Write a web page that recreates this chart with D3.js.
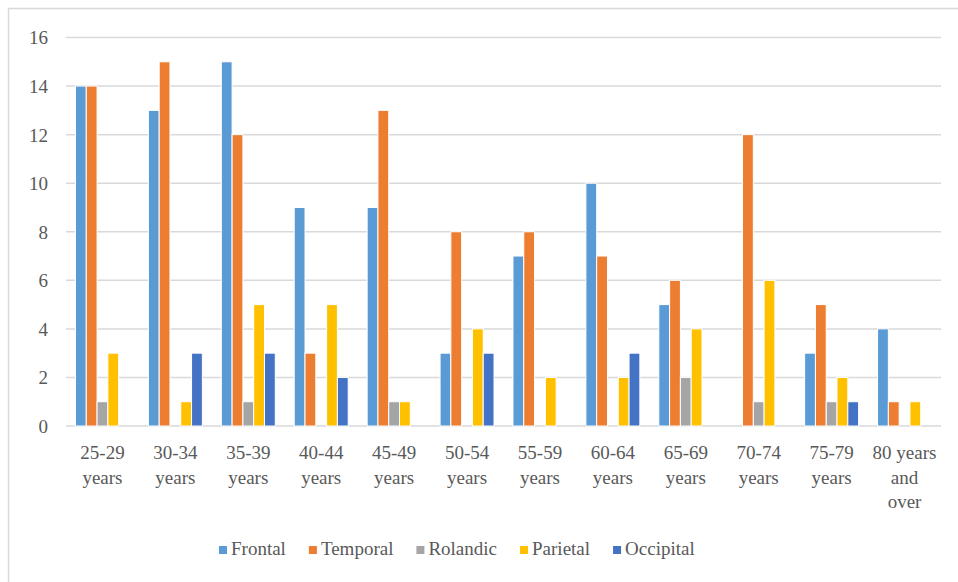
<!DOCTYPE html>
<html>
<head>
<meta charset="utf-8">
<script src="https://cdn.jsdelivr.net/npm/d3@7"></script>
<style>
  html, body { margin: 0; padding: 0; background: #fff; }
  svg { display: block; }
  svg text { font-family: "Times New Roman", "Liberation Serif", "DejaVu Serif", serif !important; fill: #595959; }
</style>
</head>
<body>
<svg id="chart" width="958" height="582"></svg>
<script>
// Age groups (each label split into its display lines)
const categories = ["25-29 years", "30-34 years", "35-39 years", "40-44 years", "45-49 years",
  "50-54 years", "55-59 years", "60-64 years", "65-69 years", "70-74 years", "75-79 years",
  "80 years and over"];
const categoryLines = [["25-29", "years"], ["30-34", "years"], ["35-39", "years"], ["40-44", "years"],
  ["45-49", "years"], ["50-54", "years"], ["55-59", "years"], ["60-64", "years"], ["65-69", "years"],
  ["70-74", "years"], ["75-79", "years"], ["80 years", "and", "over"]];

// Series values per age group
const seriesNames = ["Frontal", "Temporal", "Rolandic", "Parietal", "Occipital"];
const frontal   = [14, 13, 15, 9, 9, 3, 7, 10, 5, 0, 3, 4];
const temporal  = [14, 15, 12, 3, 13, 8, 8, 7, 6, 12, 5, 1];
const rolandic  = [1, 0, 1, 0, 1, 0, 0, 0, 2, 1, 1, 0];
const parietal  = [3, 1, 5, 5, 1, 4, 2, 2, 4, 6, 2, 1];
const occipital = [0, 3, 3, 2, 0, 3, 0, 3, 0, 0, 1, 0];
const seriesColors = ["#5b9bd5", "#ed7d31", "#a5a5a5", "#ffc000", "#4472c4"];

const yTicks = [0, 2, 4, 6, 8, 10, 12, 14, 16];

const FONT = "'Times New Roman', 'Liberation Serif', 'DejaVu Serif', serif";

const seriesValues = [frontal, temporal, rolandic, parietal, occipital];
const rows = categories.map((c, i) => ({
  category: c,
  lines: categoryLines[i],
  values: seriesNames.map((s, j) => ({ series: s, value: seriesValues[j][i], color: seriesColors[j] }))
}));

const svg = d3.select("#chart");

// Outer chart frame (only left and top edges fall inside the view)
svg.append("rect")
  .attr("x", 8.5).attr("y", 8.5)
  .attr("width", 1000).attr("height", 1000)
  .attr("fill", "none").attr("stroke", "#d9d9d9").attr("stroke-width", 1.5);

const plot = { left: 66, right: 941, top: 37.5, bottom: 426 };

const x0 = d3.scaleBand().domain(categories).range([plot.left, plot.right]).padding(0);
const gapRatio = 0.13;
const x1 = d3.scaleBand().domain(seriesNames)
  .range([x0.bandwidth() * gapRatio, x0.bandwidth() * (1 - gapRatio)]).padding(0);
const y = d3.scaleLinear().domain([0, 16]).range([plot.bottom, plot.top]);

// Horizontal gridlines
svg.append("g").selectAll("line").data(yTicks).join("line")
  .attr("x1", plot.left).attr("x2", plot.right)
  .attr("y1", d => y(d)).attr("y2", d => y(d))
  .attr("stroke", "#d9d9d9").attr("stroke-width", 1.5);

// Y axis labels
const yAxis = d3.axisLeft(y).tickValues(yTicks).tickSize(0).tickPadding(0).tickFormat(d3.format("d"));
const gy = svg.append("g").attr("transform", "translate(48,0)").call(yAxis);
gy.attr("font-family", null).attr("font-size", null);
gy.select(".domain").remove();
gy.selectAll("text")
  .style("font-family", FONT)
  .attr("font-size", 19).attr("fill", "#595959").attr("dy", "0.34em");

// Bars
const groups = svg.append("g").selectAll("g").data(rows).join("g")
  .attr("transform", d => `translate(${x0(d.category)},0)`);
groups.selectAll("rect").data(d => d.values.filter(v => v.value > 0)).join("rect")
  .attr("x", d => x1(d.series))
  .attr("width", x1.bandwidth())
  .attr("y", d => y(d.value))
  .attr("height", d => y(0) - y(d.value))
  .attr("fill", d => d.color)
  .attr("stroke", "#fff").attr("stroke-width", 1);

// X axis labels (multi-line)
const xAxis = d3.axisBottom(x0).tickSize(0).tickFormat("");
const gx = svg.append("g").attr("transform", `translate(0,${plot.bottom})`).call(xAxis);
gx.attr("font-family", null).attr("font-size", null);
gx.select(".domain").remove();
gx.selectAll(".tick text").remove();
gx.selectAll(".tick").each(function(d, i) {
  const t = d3.select(this).append("text")
    .attr("text-anchor", "middle")
    .style("font-family", FONT)
    .attr("font-size", 19).attr("fill", "#595959")
    .attr("y", 33);
  rows[i].lines.forEach((ln, k) => {
    t.append("tspan").attr("x", 0).attr("dy", k === 0 ? 0 : 24.5).text(ln);
  });
});

// Legend
const legend = svg.append("g").attr("transform", "translate(219,555)");
let lx = 0;
seriesNames.forEach((s, i) => {
  const item = legend.append("g").attr("transform", `translate(${lx},0)`);
  item.append("rect").attr("x", 0).attr("y", -9).attr("width", 8).attr("height", 8)
    .attr("fill", seriesColors[i]);
  const txt = item.append("text").attr("x", 12).attr("y", 0)
    .style("font-family", FONT)
    .attr("font-size", 19).attr("fill", "#595959").text(s);
  lx += 12 + txt.node().getComputedTextLength() + 23;
});
</script>
</body>
</html>
